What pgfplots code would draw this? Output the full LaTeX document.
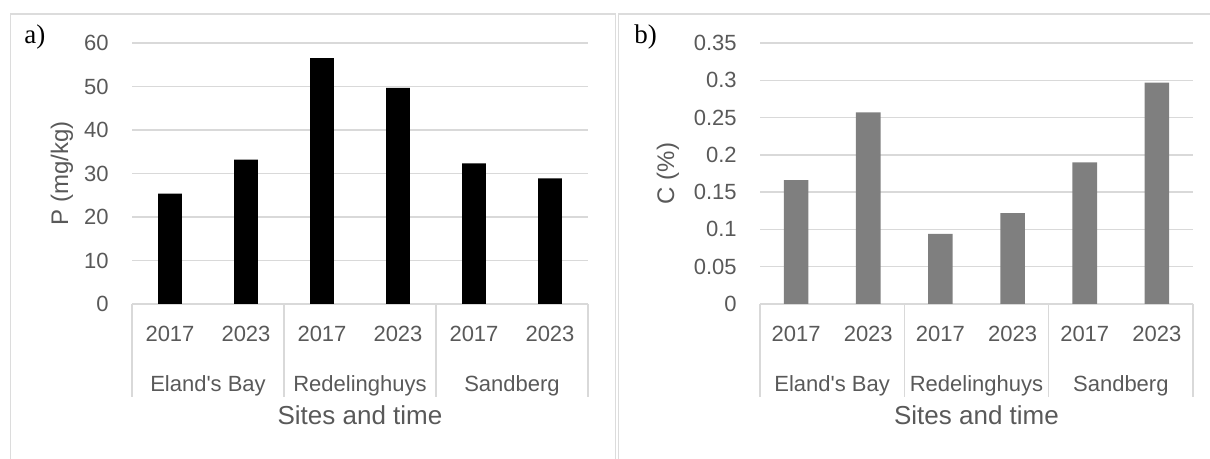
\documentclass[border=0pt]{standalone}
\usepackage{fontspec}
\setmainfont{Liberation Sans}
\newfontfamily\panelfont{Liberation Serif}
\usepackage{pgfplots}
\pgfplotsset{compat=1.18}

\definecolor{txtgray}{HTML}{595959}
\definecolor{gridgray}{HTML}{D9D9D9}
\definecolor{framegray}{HTML}{DCDCDC}
\definecolor{bargray}{HTML}{7F7F7F}

\newcommand{\tickfont}{\fontsize{11}{13}\selectfont}
\newcommand{\titlefont}{\fontsize{13}{15}\selectfont}
\newcommand{\ytitlefont}{\fontsize{12}{14}\selectfont}

\tikzset{
  sitelabels/.style={anchor=base, inner sep=0pt, font=\tickfont, text=txtgray},
  sepline/.style={gridgray, line width=0.65pt},
}

\pgfplotsset{
  panel/.style={
    scale only axis,
    height=130.5pt,
    anchor=south west,
    xmin=-0.5, xmax=5.5, ymin=0,
    clip=false,
    axis line style={draw=none},
    tick style={draw=none},
    ymajorgrids,
    major grid style={gridgray, line width=0.65pt},
    /pgf/number format/assume math mode=true,
    scaled y ticks=false,
    xtick={0,...,5},
    xticklabels={2017,2023,2017,2023,2017,2023},
    xticklabel style={anchor=base, yshift=-18.8pt, inner sep=0pt, font=\tickfont, text=txtgray},
    yticklabel style={anchor=east, xshift=-11.5pt, inner sep=0pt, font=\tickfont, text=txtgray},
    xlabel={Sites and time},
    xlabel style={at={(rel axis cs:0.5,0)}, anchor=base, yshift=-60.5pt, inner sep=0pt, font=\titlefont, text=txtgray},
    every axis y label/.style={at={(rel axis cs:0,0.5)}, anchor=center, rotate=90, font=\ytitlefont, text=txtgray},
  },
}

\begin{document}
\begin{tikzpicture}
\useasboundingbox (0,0) rectangle (605pt,229.5pt);

% panel frames
\draw[framegray, line width=0.65pt] (5.25pt,-1pt) -- (5.25pt,222.5pt) -- (307.75pt,222.5pt) -- (307.75pt,-1pt);
\draw[framegray, line width=0.65pt] (309.4pt,-1pt) -- (309.4pt,222.5pt) -- (607pt,222.5pt);

\node[anchor=base west, inner sep=0pt, font=\panelfont\fontsize{13.5}{15}\selectfont] at (12pt,207.5pt) {a)};
\node[anchor=base west, inner sep=0pt, font=\panelfont\fontsize{13.5}{15}\selectfont] at (317pt,207.5pt) {b)};

% a) phosphorus
\begin{axis}[panel,
  at={(66pt,77.5pt)}, width=228pt,
  ymax=60, ytick={0,10,...,60},
  ylabel={P (mg/kg)},
  ylabel style={yshift=35pt},
]
\addplot[ybar, bar width=0.31, fill=black, draw=none] coordinates {
  (0,25.4) (1,33.2) (2,56.5) (3,49.7) (4,32.3) (5,28.9)};
\draw[sepline] (axis cs:-0.5,0) -- ([yshift=-46.5pt]axis cs:-0.5,0);
\draw[sepline] (axis cs:1.5,0) -- ([yshift=-46.5pt]axis cs:1.5,0);
\draw[sepline] (axis cs:3.5,0) -- ([yshift=-46.5pt]axis cs:3.5,0);
\draw[sepline] (axis cs:5.5,0) -- ([yshift=-46.5pt]axis cs:5.5,0);
\node[sitelabels] at (axis cs:0.5,0) [yshift=-43.8pt] {Eland\textquotesingle s Bay};
\node[sitelabels] at (axis cs:2.5,0) [yshift=-43.8pt] {Redelinghuys};
\node[sitelabels] at (axis cs:4.5,0) [yshift=-43.8pt] {Sandberg};
\end{axis}

% b) carbon
\begin{axis}[panel,
  at={(380pt,77.5pt)}, width=216.5pt,
  ymax=0.35, ytick={0,0.05,0.1,0.15,0.2,0.25,0.3,0.35},
  yticklabels={0,0.05,0.1,0.15,0.2,0.25,0.3,0.35},
  ylabel={C (\%)},
  ylabel style={yshift=46pt},
]
\addplot[ybar, bar width=0.34, fill=bargray, draw=none] coordinates {
  (0,0.166) (1,0.257) (2,0.094) (3,0.122) (4,0.190) (5,0.297)};
\draw[sepline] (axis cs:-0.5,0) -- ([yshift=-46.5pt]axis cs:-0.5,0);
\draw[sepline] (axis cs:1.5,0) -- ([yshift=-46.5pt]axis cs:1.5,0);
\draw[sepline] (axis cs:3.5,0) -- ([yshift=-46.5pt]axis cs:3.5,0);
\draw[sepline] (axis cs:5.5,0) -- ([yshift=-46.5pt]axis cs:5.5,0);
\node[sitelabels] at (axis cs:0.5,0) [yshift=-43.8pt] {Eland\textquotesingle s Bay};
\node[sitelabels] at (axis cs:2.5,0) [yshift=-43.8pt] {Redelinghuys};
\node[sitelabels] at (axis cs:4.5,0) [yshift=-43.8pt] {Sandberg};
\end{axis}
\end{tikzpicture}
\end{document}
